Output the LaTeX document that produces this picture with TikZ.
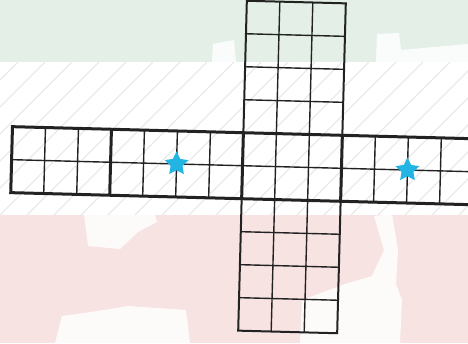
\documentclass[tikz,border=0pt]{standalone}
\usetikzlibrary{shapes.geometric}
\definecolor{flaggreen}{HTML}{E4F0E7}
\definecolor{flagred}{HTML}{F8E3E3}
\definecolor{hatchgray}{HTML}{EAEAEA}
\definecolor{starcyan}{HTML}{22B5E4}
\definecolor{gridink}{HTML}{222222}

\begin{document}
\begin{tikzpicture}[x=1pt, y=-1pt,
  hatch/.style={hatchgray, line width=1.2pt},
  patch/.style={fill=white, draw=none, opacity=0.85},
  cellline/.style={gridink, line width=1.4pt},
  edgeline/.style={gridink, line width=2pt},
  blockline/.style={gridink, line width=3pt},
  token/.style={star, star points=5, star point ratio=2, fill=starcyan, draw=none,
    minimum size=25pt, inner sep=0pt}
]
  \useasboundingbox (0,0) rectangle (468,343);
  \fill[flaggreen] (0,0) rectangle (468,62);
  \fill[white] (0,62) rectangle (468,215);
  \fill[flagred] (0,215) rectangle (468,343);
  \fill[patch] (213,44) -- (234,40) -- (236,62) -- (212,62) -- cycle;
  \fill[patch] (377,34) -- (399,33) -- (401,50) -- (468,44) -- (468,62) -- (376,62) -- cycle;
  \fill[patch] (84,214) -- (100,206) -- (152,205) -- (157,222) -- (138,232) -- (120,249) -- (88,246) -- cycle;
  \fill[patch] (55,343) -- (62,316) -- (98,311) -- (128,306) -- (186,310) -- (190,343) -- cycle;
  \fill[patch] (374,216) -- (392,214) -- (398,250) -- (396,284) -- (402,300) -- (400,343) -- (300,343)
    -- (302,300) -- (345,284) -- (372,276) -- (384,250) -- cycle;
  \begin{scope}
    \clip (0,62) rectangle (468,215);
    \foreach \i in {-7,...,19}
      \draw[hatch] (\i*27,215) -- ++(153,-153);
  \end{scope}
  \begin{scope}[shift={(292,167)}, rotate=-1.5]
    \draw[cellline] (-280.5,0) -- (181.5,0);
    \foreach \x in {-247.5,-214.5,-148.5,-115.5,-82.5,82.5,115.5,148.5}
      \draw[cellline] (\x,-33) -- (\x,33);
    \foreach \x in {-16.5,16.5}
      \draw[cellline] (\x,-165) -- (\x,165);
    \foreach \y in {-132,-99,-66,66,99,132}
      \draw[cellline] (-49.5,\y) -- (49.5,\y);
    \draw[edgeline] (-49.5,-165) rectangle (49.5,165);
    \draw[blockline] (-280.5,-33) rectangle (181.5,33);
    \foreach \x in {-181.5,-49.5,49.5}
      \draw[blockline] (\x,-33) -- (\x,33);
    \node[token] (starwest) at (-115.5,0) {};
    \node[token] (stareast) at (115.5,0) {};
  \end{scope}
\end{tikzpicture}
\end{document}
